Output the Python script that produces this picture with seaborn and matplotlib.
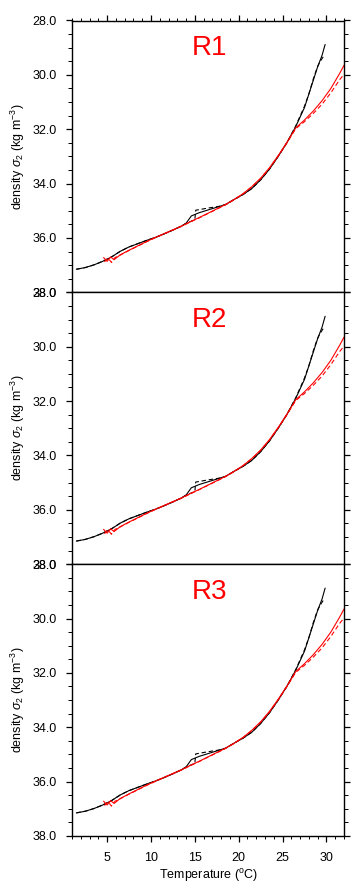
import numpy as np
import pandas as pd
import matplotlib
matplotlib.use("Agg")
import matplotlib.pyplot as plt
import seaborn as sns
from matplotlib.ticker import MultipleLocator

# ---------------- data ----------------
panels = ["R1", "R2", "R3"]

t_black = [1.5, 2.5, 3.5, 4.5, 5.5, 6.5, 7.5, 8.5, 9.5, 10.5, 11.5, 12.5, 13.5,
           14.0, 14.6, 15.5, 16.5, 17.5, 18.5, 19.5, 20.5, 21.5, 22.5, 23.5,
           24.5, 25.5, 26.5, 27.5, 28.5, 29.0, 29.5, 29.85]
rho_black = [37.15, 37.09, 36.99, 36.86, 36.70, 36.49, 36.33, 36.21, 36.09,
             35.98, 35.85, 35.71, 35.56, 35.46, 35.19, 35.07, 34.97, 34.87,
             34.77, 34.58, 34.40, 34.18, 33.86, 33.47, 33.00, 32.49, 31.90,
             31.20, 30.20, 29.70, 29.28, 28.88]

t_black_d = [1.5, 2.5, 3.5, 4.5, 5.5, 6.5, 7.5, 8.5, 9.5, 10.5, 11.5, 12.5,
             13.5, 14.0, 15.0, 15.1, 16.5, 17.9, 18.5, 19.5, 20.5, 21.5, 22.5,
             23.5, 24.5, 25.5, 26.5, 27.5, 28.0, 28.5, 29.0, 29.4, 29.7]
rho_black_d = [37.15, 37.09, 36.99, 36.86, 36.70, 36.49, 36.33, 36.21, 36.09,
               35.98, 35.85, 35.71, 35.56, 35.46, 35.33, 34.98, 34.90, 34.83,
               34.77, 34.58, 34.40, 34.18, 33.86, 33.47, 33.00, 32.49, 31.88,
               31.15, 30.70, 30.15, 29.68, 29.45, 29.30]

t_red = [4.6, 5.0, 5.4, 5.8, 6.5, 7.5, 8.5, 9.5, 10.5, 11.5, 12.5, 13.5, 14.5,
         15.5, 16.5, 17.5, 18.5, 19.5, 20.5, 21.5, 22.5, 23.5, 24.5, 25.5,
         26.5, 27.5, 28.5, 29.5, 30.5, 31.5, 32.0]
rho_red = [36.72, 36.86, 36.70, 36.80, 36.62, 36.45, 36.29, 36.13, 35.98,
           35.84, 35.70, 35.56, 35.40, 35.25, 35.09, 34.93, 34.77, 34.58,
           34.37, 34.11, 33.80, 33.42, 32.97, 32.48, 31.95, 31.66, 31.33,
           30.95, 30.50, 29.95, 29.65]

t_red_d = [4.7, 5.1, 5.5, 5.9, 6.5, 7.5, 8.5, 9.5, 10.5, 11.5, 12.5, 13.5,
           14.5, 15.5, 16.5, 17.5, 18.5, 19.5, 20.5, 21.5, 22.5, 23.5, 24.5,
           25.5, 26.5, 27.5, 28.5, 29.5, 30.5, 31.5, 32.0]
rho_red_d = [36.88, 36.74, 36.90, 36.72, 36.63, 36.46, 36.30, 36.14, 35.99,
             35.85, 35.71, 35.57, 35.41, 35.26, 35.10, 34.94, 34.78, 34.59,
             34.38, 34.12, 33.82, 33.44, 32.99, 32.50, 31.98, 31.72, 31.42,
             31.08, 30.66, 30.18, 29.98]

x_ticks = [5, 10, 15, 20, 25, 30]
y_ticks = [28.0, 30.0, 32.0, 34.0, 36.0, 38.0]

# ---------------- style ----------------
sns.set_theme(style="ticks")
plt.rcParams["font.family"] = ["Liberation Sans", "DejaVu Sans"]
plt.rcParams["mathtext.fontset"] = "custom"
plt.rcParams["mathtext.rm"] = "Liberation Sans"
plt.rcParams["mathtext.it"] = "Liberation Sans:italic"
for k in ["text.color", "axes.labelcolor", "xtick.color", "ytick.color",
          "axes.edgecolor"]:
    plt.rcParams[k] = "black"

FS = 9
fig = plt.figure(figsize=(3.64, 8.94), dpi=100)
gs = fig.add_gridspec(3, 1, left=72/364, right=344/364,
                      top=1-20.5/894, bottom=1-836/894, hspace=0)

series = [
    (t_black, rho_black, "black", "-"),
    (t_black_d, rho_black_d, "black", (0, (4, 2.5))),
    (t_red, rho_red, "#ff0000", "-"),
    (t_red_d, rho_red_d, "#ff0000", (0, (4, 2.5))),
]

for i, name in enumerate(panels):
    ax = fig.add_subplot(gs[i, 0])
    for t, r, c, ls in series:
        df = pd.DataFrame({"T": t, "rho": r})
        sns.lineplot(data=df, x="T", y="rho", ax=ax, color=c, lw=0.8,
                     sort=False, estimator=None)
        ax.lines[-1].set_linestyle(ls)
    ax.set_xlim(1, 32)
    ax.set_ylim(38, 28)
    ax.set_yticks(y_ticks)
    ax.set_yticklabels([f"{v:.1f}" for v in y_ticks], fontsize=FS)
    ax.yaxis.set_minor_locator(MultipleLocator(0.5))
    ax.set_xticks(x_ticks)
    ax.xaxis.set_minor_locator(MultipleLocator(1))
    ax.set_ylabel(r"density $\sigma_2$ (kg m$^{-3}$)", fontsize=FS, labelpad=4)
    for s in ax.spines.values():
        s.set_visible(True)
        s.set_linewidth(1.0)
        s.set_color("black")
    ax.tick_params(axis="y", which="both", direction="out", left=True,
                   right=True, labelleft=True, labelright=False, pad=6.5)
    ax.tick_params(axis="y", which="major", length=4.5, width=0.9)
    ax.tick_params(axis="y", which="minor", length=2.8, width=0.7)
    ax.tick_params(axis="x", which="both", direction="out",
                   top=(i == 0), bottom=(i == 2), labelbottom=(i == 2),
                   labeltop=False, pad=7)
    ax.tick_params(axis="x", which="major", length=4.5, width=0.9,
                   labelsize=FS)
    ax.tick_params(axis="x", which="minor", length=2.5, width=0.7)
    if i == 2:
        ax.set_xlabel(r"Temperature ($^{\mathrm{o}}$C)", fontsize=FS,
                      labelpad=2)
    else:
        ax.set_xlabel("")
    ax.text(0.504, 0.897, name, transform=ax.transAxes, color="#ff0000",
            fontsize=20, ha="center", va="center")

fig.savefig("out.png", dpi=100)
